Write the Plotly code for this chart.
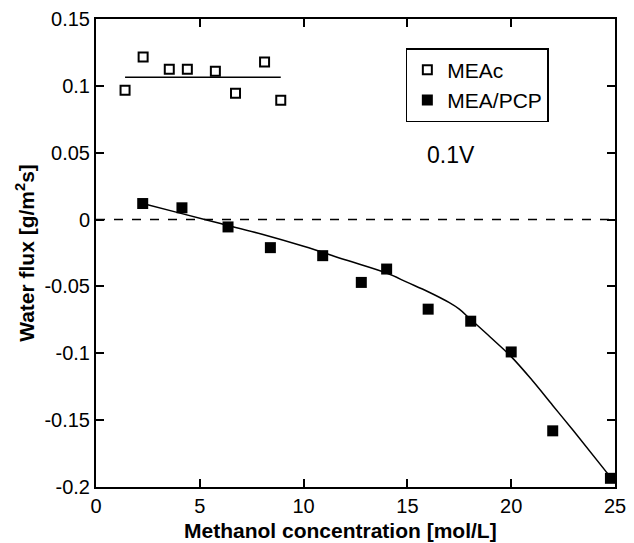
import plotly.graph_objects as go

# MEAc (open squares)
meac_x = [1.40, 2.27, 3.53, 4.40, 5.75, 6.72, 8.12, 8.90]
meac_y = [0.0968, 0.1215, 0.1125, 0.1125, 0.111, 0.0945, 0.1178, 0.0893]
meac_fit_x = [1.40, 8.90]
meac_fit_y = [0.1065, 0.1065]

# MEA/PCP (filled squares)
pcp_x = [2.25, 4.14, 6.36, 8.4, 10.92, 12.78, 14.0, 16.0, 18.05, 20.0, 22.0, 24.78]
pcp_y = [0.012, 0.0088, -0.0055, -0.021, -0.027, -0.047, -0.037, -0.067, -0.076, -0.099, -0.158, -0.1935]

# fitted curve for MEA/PCP
fit_x = [2.25, 4, 6, 8, 10, 12, 14, 15, 16, 17, 17.5, 18, 19, 20, 21, 22, 23, 24.8]
fit_y = [0.012, 0.005, -0.003, -0.011, -0.020, -0.030, -0.040, -0.047, -0.054,
         -0.062, -0.067, -0.074, -0.088, -0.1025, -0.120, -0.139, -0.158, -0.193]

zero_x = [0, 25]
zero_y = [0, 0]

fig = go.Figure()
fig.add_trace(go.Scatter(x=zero_x, y=zero_y, mode="lines",
                         line=dict(color="black", width=1.5, dash="dash"),
                         showlegend=False, hoverinfo="skip"))
fig.add_trace(go.Scatter(x=meac_fit_x, y=meac_fit_y, mode="lines",
                         line=dict(color="black", width=1.5), showlegend=False))
fig.add_trace(go.Scatter(x=fit_x, y=fit_y, mode="lines", line_shape="spline",
                         line=dict(color="black", width=1.5), showlegend=False))
fig.add_trace(go.Scatter(x=meac_x, y=meac_y, mode="markers", name="MEAc",
                         marker=dict(symbol="square", size=9, color="white",
                                     line=dict(color="black", width=2))))
fig.add_trace(go.Scatter(x=pcp_x, y=pcp_y, mode="markers", name="MEA/PCP",
                         marker=dict(symbol="square", size=11, color="black",
                                     line=dict(width=0))))

fig.add_annotation(x=17.1, y=0.048, text="0.1V", showarrow=False,
                   font=dict(size=23, color="black"))

# x-axis title (slightly left of the plot centre, as in the reference)
fig.add_annotation(xref="paper", yref="paper", x=0.471, y=-0.092,
                   xanchor="center", yanchor="middle", showarrow=False,
                   text="<b>Methanol concentration [mol/L]</b>",
                   font=dict(size=21, color="black"))

axis_common = dict(showgrid=False, zeroline=False, showline=True, linecolor="black",
                   linewidth=2, mirror="ticks", ticks="inside", ticklen=8,
                   tickwidth=2, tickcolor="black", automargin=False,
                   tickfont=dict(size=20, color="black"))

fig.update_xaxes(range=[0, 25], tickvals=[0, 5, 10, 15, 20, 25], **axis_common)
fig.update_yaxes(range=[-0.2, 0.15],
                 tickvals=[-0.2, -0.15, -0.1, -0.05, 0, 0.05, 0.1, 0.15],
                 ticktext=["-0.2", "-0.15", "-0.1", "-0.05", "0", "0.05", "0.1", "0.15"],
                 title=dict(text="<b>Water flux [g/m<sup>2</sup>s]</b>",
                            font=dict(size=21, color="black"), standoff=4),
                 **axis_common)

fig.update_layout(
    width=634, height=543,
    margin=dict(l=96, r=19, t=19, b=56),
    plot_bgcolor="white", paper_bgcolor="white",
    font=dict(family="Liberation Sans, Arial, sans-serif", color="black"),
    legend=dict(x=0.597, y=0.938, xanchor="left", yanchor="top",
                bordercolor="black", borderwidth=1.5, bgcolor="white",
                font=dict(size=21), itemwidth=30, tracegroupgap=0,
                entrywidth=120, entrywidthmode="pixels"),
    showlegend=True,
)

fig.write_html("out.html")
